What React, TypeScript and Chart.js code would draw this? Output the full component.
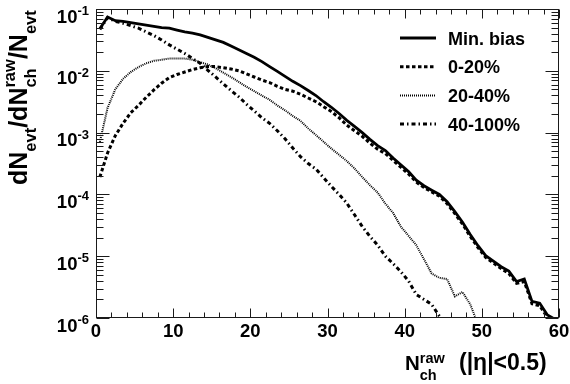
import React, { useEffect, useRef } from "react";
import { Chart, registerables } from "chart.js";

Chart.register(...registerables);

// N_ch^raw bin centres
const nchRaw = [
  0.5, 1.5, 2.5, 3.5, 4.5, 5.5, 6.5, 7.5, 8.5, 9.5,
  10.5, 11.5, 12.5, 13.5, 14.5, 15.5, 16.5, 17.5, 18.5, 19.5,
  20.5, 21.5, 22.5, 23.5, 24.5, 25.5, 26.5, 27.5, 28.5, 29.5,
  30.5, 31.5, 32.5, 33.5, 34.5, 35.5, 36.5, 37.5, 38.5, 39.5,
  40.5, 41.5, 42.5, 43.5, 44.5, 45.5, 46.5, 47.5, 48.5, 49.5,
  50.5, 51.5, 52.5, 53.5, 54.5, 55.5, 56.5, 57.5, 58.5, 59.5,
];

const minBias = [
  4.8e-2, 7.4e-2, 6.46e-2, 6.31e-2, 6.03e-2, 5.75e-2, 5.5e-2, 5.25e-2, 5.01e-2, 4.9e-2,
  4.57e-2, 4.27e-2, 4.07e-2, 3.8e-2, 3.47e-2, 3.16e-2, 2.88e-2, 2.51e-2, 2.19e-2, 1.91e-2,
  1.66e-2, 1.41e-2, 1.17e-2, 9.77e-3, 8.13e-3, 6.76e-3, 5.75e-3, 4.79e-3, 3.98e-3, 3.16e-3,
  2.57e-3, 2.04e-3, 1.58e-3, 1.26e-3, 1.0e-3, 7.76e-4, 6.17e-4, 5.13e-4, 3.89e-4, 3.02e-4,
  2.34e-4, 1.7e-4, 1.38e-4, 1.17e-4, 1.0e-4, 7.59e-5, 5.25e-5, 3.55e-5, 2.24e-5, 1.48e-5,
  1.02e-5, 8.32e-6, 6.76e-6, 5.75e-6, 3.89e-6, 4.27e-6, 1.86e-6, 1.74e-6, 1.12e-6, 9.5e-7,
];

const cent0to20 = [
  1.91e-4, 4.68e-4, 8.91e-4, 1.41e-3, 2.09e-3, 2.75e-3, 3.72e-3, 4.9e-3, 6.31e-3, 7.76e-3,
  8.71e-3, 9.55e-3, 1.05e-2, 1.12e-2, 1.17e-2, 1.17e-2, 1.12e-2, 1.07e-2, 1.0e-2, 8.91e-3,
  7.94e-3, 7.08e-3, 6.46e-3, 5.62e-3, 5.01e-3, 4.68e-3, 4.17e-3, 3.63e-3, 3.16e-3, 2.63e-3,
  2.19e-3, 1.74e-3, 1.32e-3, 1.07e-3, 8.71e-4, 6.76e-4, 5.37e-4, 4.57e-4, 3.55e-4, 2.75e-4,
  2.14e-4, 1.58e-4, 1.29e-4, 1.1e-4, 9.33e-5, 7.08e-5, 4.9e-5, 3.31e-5, 2.09e-5, 1.38e-5,
  9.55e-6, 7.76e-6, 6.31e-6, 5.25e-6, 3.63e-6, 3.89e-6, 1.7e-6, 1.58e-6, 1.02e-6,
];

const cent20to40 = [
  7.08e-4, 2.51e-3, 5.01e-3, 7.41e-3, 9.55e-3, 1.15e-2, 1.32e-2, 1.45e-2, 1.51e-2, 1.58e-2,
  1.58e-2, 1.58e-2, 1.51e-2, 1.38e-2, 1.26e-2, 1.1e-2, 9.33e-3, 7.94e-3, 6.61e-3, 5.5e-3,
  4.68e-3, 3.98e-3, 3.39e-3, 2.75e-3, 2.29e-3, 1.86e-3, 1.55e-3, 1.17e-3, 9.12e-4, 7.08e-4,
  5.5e-4, 4.37e-4, 3.47e-4, 2.63e-4, 1.91e-4, 1.41e-4, 1.07e-4, 7.08e-5, 5.01e-5, 3.02e-5,
  2.14e-5, 1.51e-5, 8.91e-6, 5.25e-6, 4.47e-6, 4.27e-6, 2.24e-6, 2.63e-6, 1.66e-6, 7.9e-7,
];

const cent40to100 = [
  4.68e-2, 7.24e-2, 6.31e-2, 5.89e-2, 5.37e-2, 4.9e-2, 4.27e-2, 3.72e-2, 3.16e-2, 2.63e-2,
  2.24e-2, 1.91e-2, 1.58e-2, 1.32e-2, 1.02e-2, 7.94e-3, 6.17e-3, 4.79e-3, 3.8e-3, 2.88e-3,
  2.24e-3, 1.74e-3, 1.41e-3, 1.07e-3, 7.94e-4, 5.62e-4, 4.07e-4, 3.16e-4, 2.57e-4, 1.86e-4,
  1.35e-4, 1.0e-4, 7.24e-5, 4.68e-5, 3.02e-5, 2.09e-5, 1.51e-5, 1.0e-5, 7.59e-6, 5.62e-6,
  3.98e-6, 2.4e-6, 2.0e-6, 1.66e-6, 1.07e-6, 6.3e-7,
];

const seriesLabels = ["Min. bias", "0-20%", "20-40%", "40-100%"];
const xMajorTicks = [0, 10, 20, 30, 40, 50, 60];
const yExponents = [-1, -2, -3, -4, -5, -6];

const FONT = '"Liberation Sans", Arial, Helvetica, sans-serif';

type Run = { t: string; size: number; dy: number; stack?: { t: string; size: number; dy: number } };

function runWidth(ctx: CanvasRenderingContext2D, r: Run) {
  ctx.font = `bold ${r.size}px ${FONT}`;
  let w = ctx.measureText(r.t).width;
  if (r.stack) {
    ctx.font = `bold ${r.stack.size}px ${FONT}`;
    w = Math.max(w, ctx.measureText(r.stack.t).width);
  }
  return w;
}
function runsWidth(ctx: CanvasRenderingContext2D, runs: Run[]) {
  return runs.reduce((s, r) => s + runWidth(ctx, r), 0);
}
function drawRuns(ctx: CanvasRenderingContext2D, runs: Run[], x: number, y: number) {
  let cx = x;
  for (const r of runs) {
    const w = runWidth(ctx, r);
    ctx.font = `bold ${r.size}px ${FONT}`;
    ctx.fillText(r.t, cx, y + r.dy);
    if (r.stack) {
      ctx.font = `bold ${r.stack.size}px ${FONT}`;
      ctx.fillText(r.stack.t, cx, y + r.stack.dy);
    }
    cx += w;
  }
}

const rootStyle = {
  id: "rootStyle",
  afterDraw(chart: any) {
    const { ctx, chartArea: a, scales } = chart;
    const xs = scales.x;
    const ys = scales.y;
    ctx.save();
    ctx.setLineDash([]);
    ctx.strokeStyle = "#1a1a1a";
    ctx.lineWidth = 1;
    const L = Math.round(a.left) + 0.5;
    const R = Math.round(a.right) - 0.5;
    const T = Math.round(a.top) + 0.5;
    const B = Math.round(a.bottom) - 0.5;
    ctx.strokeRect(L, T, R - L, B - T);

    ctx.beginPath();
    // x ticks (bottom and top), minor every 2
    for (let v = 0; v <= 60; v += 2) {
      const px = Math.round(xs.getPixelForValue(v)) + 0.5;
      const len = v % 10 === 0 ? 9 : 5;
      ctx.moveTo(px, B);
      ctx.lineTo(px, B - len);
      ctx.moveTo(px, T);
      ctx.lineTo(px, T + len);
    }
    // y ticks (left and right)
    for (const e of yExponents) {
      const major = Math.pow(10, e);
      const py = Math.round(ys.getPixelForValue(major)) + 0.5;
      ctx.moveTo(L, py);
      ctx.lineTo(L + 13, py);
      ctx.moveTo(R, py);
      ctx.lineTo(R - 13, py);
      if (e < -1) {
        for (let m = 2; m <= 9; m++) {
          const pm = Math.round(ys.getPixelForValue(m * major)) + 0.5;
          ctx.moveTo(L, pm);
          ctx.lineTo(L + 7, pm);
          ctx.moveTo(R, pm);
          ctx.lineTo(R - 7, pm);
        }
      }
    }
    ctx.stroke();

    ctx.fillStyle = "#000";
    // x tick labels
    ctx.textAlign = "center";
    ctx.textBaseline = "alphabetic";
    ctx.font = `bold 18.5px ${FONT}`;
    for (const v of xMajorTicks) {
      ctx.fillText(String(v), xs.getPixelForValue(v), a.bottom + 19);
    }
    // y tick labels
    ctx.textAlign = "left";
    for (const e of yExponents) {
      const py = ys.getPixelForValue(Math.pow(10, e));
      const runs: Run[] = [
        { t: "10", size: 18.5, dy: 13.5 },
        { t: String(e), size: 13, dy: 6 },
      ];
      const w = runsWidth(ctx, runs);
      drawRuns(ctx, runs, 89 - w, py);
    }

    // x title
    const xtMain: Run[] = [
      { t: "N", size: 20.5, dy: 0 },
      { t: "raw", size: 14.5, dy: -7, stack: { t: "ch", size: 14.5, dy: 10 } },
    ];
    drawRuns(ctx, xtMain, 405, 370);
    const xtParen: Run[] = [{ t: "(|\u03b7|<0.5)", size: 23, dy: 0 }];
    drawRuns(ctx, xtParen, 459, 370);

    // y title (rotated)
    ctx.save();
    ctx.translate(27, 185);
    ctx.rotate(-Math.PI / 2);
    const yt: Run[] = [
      { t: "dN", size: 25, dy: 0 },
      { t: "evt", size: 16.5, dy: 9 },
      { t: "/dN", size: 25, dy: 0 },
      { t: "raw", size: 16.5, dy: -12, stack: { t: "ch", size: 16.5, dy: 9 } },
      { t: "/N", size: 25, dy: 0 },
      { t: "evt", size: 16.5, dy: 9 },
    ];
    drawRuns(ctx, yt, 0, 0);
    ctx.restore();

    // legend
    const ds = chart.data.datasets;
    ctx.font = `bold 18px ${FONT}`;
    ctx.textAlign = "left";
    for (let i = 0; i < ds.length; i++) {
      const cy = 38 + i * 28.7;
      ctx.save();
      ctx.strokeStyle = "#000";
      ctx.lineWidth = ds[i].borderWidth;
      ctx.setLineDash(ds[i].borderDash || []);
      ctx.beginPath();
      ctx.moveTo(400, cy);
      ctx.lineTo(436, cy);
      ctx.stroke();
      ctx.restore();
      ctx.fillText(ds[i].label, 448, cy + 6.5);
    }
    ctx.restore();
  },
};

function pts(values: number[]) {
  return values.map((v, i) => ({ x: nchRaw[i], y: v }));
}

export default function App() {
  const ref = useRef<HTMLCanvasElement>(null);
  useEffect(() => {
    if (!ref.current) return;
    const chart = new Chart(ref.current, {
      type: "line",
      data: {
        datasets: [
          { label: seriesLabels[0], data: pts(minBias), borderColor: "#000", borderWidth: 2.8, borderDash: [], pointRadius: 0, tension: 0 },
          { label: seriesLabels[1], data: pts(cent0to20), borderColor: "#000", borderWidth: 3, borderDash: [3.5, 2.5], pointRadius: 0, tension: 0 },
          { label: seriesLabels[2], data: pts(cent20to40), borderColor: "#000", borderWidth: 2, borderDash: [1, 1], pointRadius: 0, tension: 0 },
          { label: seriesLabels[3], data: pts(cent40to100), borderColor: "#000", borderWidth: 3, borderDash: [4, 3, 1.5, 3], pointRadius: 0, tension: 0 },
        ],
      },
      options: {
        responsive: false,
        animation: false,
        devicePixelRatio: 1,
        layout: { padding: { left: 0, right: 11, top: 9, bottom: 0 } },
        plugins: { legend: { display: false }, tooltip: { enabled: false } },
        scales: {
          x: {
            type: "linear",
            min: 0,
            max: 60,
            grid: { display: false },
            border: { display: false },
            ticks: { display: false },
            afterFit: (s: any) => { s.height = 66; },
          },
          y: {
            type: "logarithmic",
            min: 1e-6,
            max: 1e-1,
            grid: { display: false },
            border: { display: false },
            ticks: { display: false },
            afterFit: (s: any) => { s.width = 96; },
          },
        },
      },
      plugins: [rootStyle],
    } as any);
    return () => chart.destroy();
  }, []);
  return (
    <canvas
      ref={ref}
      width={570}
      height={384}
      style={{ position: "absolute", left: 0, top: 0, width: 570, height: 384, background: "#fff" }}
    />
  );
}
